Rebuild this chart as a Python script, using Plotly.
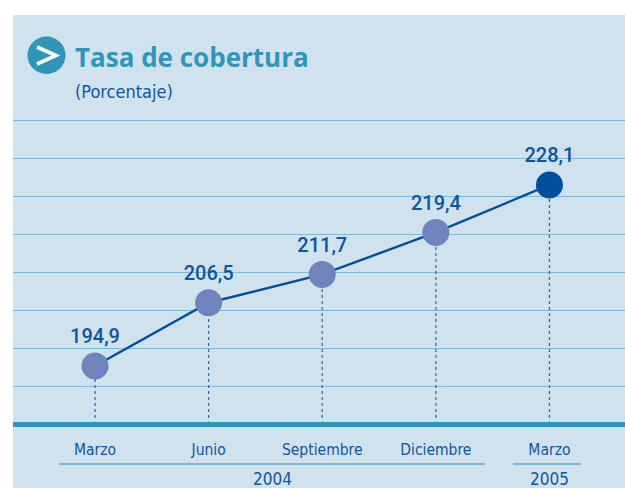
import plotly.graph_objects as go

months = ["Marzo", "Junio", "Septiembre", "Diciembre", "Marzo"]
values = [194.9, 206.5, 211.7, 219.4, 228.1]
value_labels = ["194,9", "206,5", "211,7", "219,4", "228,1"]
marker_colors = ["#6f83bd", "#6f83bd", "#6f83bd", "#6f83bd", "#00509f"]
years = ["2004", "2005"]
title = "Tasa de cobertura"
subtitle = "(Porcentaje)"
baseline = 184.26
grid_step = 6.95
grid_values = [baseline + k * grid_step for k in range(1, 9)]

W, H = 625, 488
COND = "DejaVu Sans Condensed, Liberation Sans, sans-serif"
BLUE = "#0f56a0"
TEAL = "#3096b9"
AXIS_BOTTOM = 421.5  # axis line (5 px) is drawn just below the plot area, centred on 424
PX_PER_UNIT = 5.452


def px(x):
    return x / W


def py(y):
    return 1 - y / H


fig = go.Figure()
for i, v in enumerate(values):
    fig.add_trace(go.Scatter(x=[i, i], y=[baseline, v], mode="lines",
                             line=dict(color="#2f6fae", width=1.3, dash="dot"),
                             hoverinfo="skip", showlegend=False))
fig.add_trace(go.Scatter(x=list(range(len(values))), y=values, mode="lines+markers+text",
                         line=dict(color="#00509f", width=2.4),
                         marker=dict(size=27, color=marker_colors, line=dict(width=0)),
                         text=value_labels, textposition="top center",
                         textfont=dict(family="Roboto Medium, Roboto, sans-serif", size=20, color=BLUE),
                         showlegend=False))

shapes = [
    dict(type="rect", xref="paper", yref="paper", x0=px(13), x1=1, y0=0, y1=py(15),
         fillcolor="#cfe2ee", line_width=0, layer="below"),
    dict(type="line", xref="paper", yref="paper", x0=px(59), x1=px(485), y0=py(464), y1=py(464),
         line=dict(color="#2a8fc0", width=1.2)),
    dict(type="line", xref="paper", yref="paper", x0=px(513), x1=px(581), y0=py(464), y1=py(464),
         line=dict(color="#2a8fc0", width=1.2)),
    dict(type="circle", xref="paper", yref="paper", x0=px(27.5), x1=px(65.5), y0=py(74), y1=py(36.5),
         fillcolor=TEAL, line_width=0),
    dict(type="path", xref="paper", yref="paper",
         path=f"M {px(37)} {py(47)} L {px(56)} {py(55.5)} L {px(37)} {py(64)}",
         line=dict(color="white", width=3.6)),
]

annotations = [
    dict(text=f"<b>{title}</b>", xref="paper", yref="paper", x=px(73), y=py(57), xanchor="left", yanchor="middle",
         showarrow=False, font=dict(family="Open Sans, sans-serif", size=26, color=TEAL)),
    dict(text=subtitle, xref="paper", yref="paper", x=px(73), y=py(91), xanchor="left", yanchor="middle",
         showarrow=False, font=dict(family=COND, size=18, color=BLUE)),
    dict(text=years[0], xref="paper", yref="paper", x=px(272), y=py(478.5), xanchor="center", yanchor="middle",
         showarrow=False, font=dict(family=COND, size=17, color=BLUE)),
    dict(text=years[1], xref="paper", yref="paper", x=px(549.5), y=py(478.5), xanchor="center", yanchor="middle",
         showarrow=False, font=dict(family=COND, size=17, color=BLUE)),
]

fig.update_layout(
    width=W, height=H, autosize=False,
    margin=dict(l=0, r=0, t=0, b=0),
    paper_bgcolor="white", plot_bgcolor="rgba(0,0,0,0)",
    shapes=shapes, annotations=annotations, showlegend=False,
    xaxis=dict(domain=[px(13), 1], range=[-0.722, 4.665],
               tickmode="array", tickvals=list(range(len(months))), ticktext=months,
               ticks="", showgrid=False, zeroline=False,
               showline=True, linecolor=TEAL, linewidth=5,
               tickfont=dict(family=COND, size=15.5, color=BLUE), ticklabelstandoff=10),
    yaxis=dict(domain=[py(AXIS_BOTTOM), py(15)],
               range=[baseline + (424 - AXIS_BOTTOM) / PX_PER_UNIT, baseline + 409 / PX_PER_UNIT],
               tickmode="array", tickvals=grid_values, showticklabels=False, ticks="",
               showgrid=True, gridcolor="#7cb9d3", gridwidth=1.2, zeroline=False, showline=False),
)
fig.write_html("out.html", default_width=f"{W}px", default_height=f"{H}px",
               config=dict(displayModeBar=False),
               post_script="document.documentElement.style.overflow='hidden';document.body.style.margin='0';")
